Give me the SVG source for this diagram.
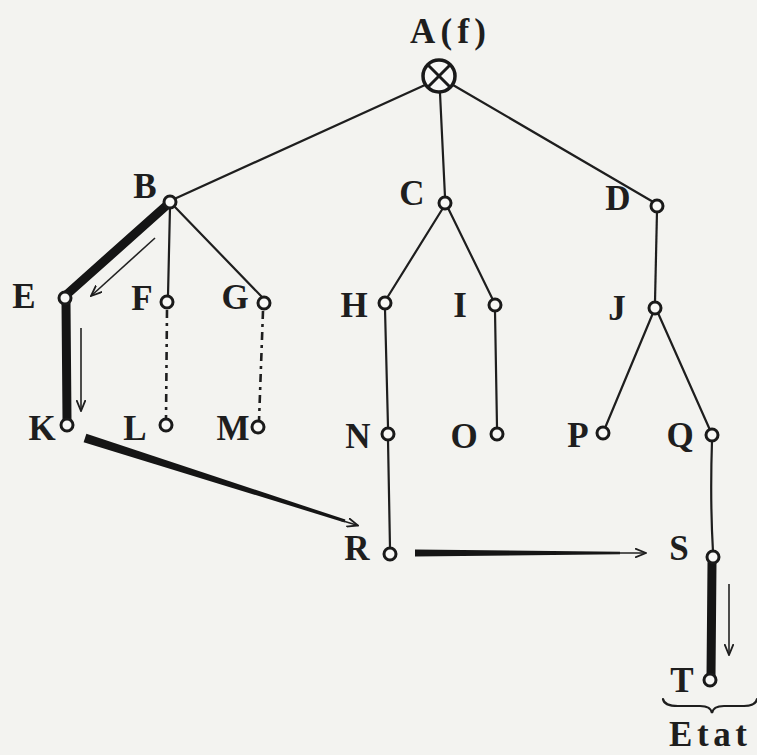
<svg xmlns="http://www.w3.org/2000/svg" width="757" height="755" viewBox="0 0 757 755">
<style>
.bg{fill:#f3f3f0}
.lbl{font-family:"Liberation Serif","DejaVu Serif",serif;font-weight:bold;font-size:35px;fill:#1e1e1e;text-anchor:middle}
.edge{stroke:#1e1e1e;stroke-width:2.2;fill:none;stroke-linecap:round}
.dd{stroke:#1e1e1e;stroke-width:2.6;fill:none;stroke-dasharray:8 5 3 5}
.thick{stroke:#151515;stroke-width:9;fill:none;stroke-linecap:round}
.thin{stroke:#222;stroke-width:1.6;fill:none}
.taper{fill:#151515}
.node{fill:#f8f8f6;stroke:#1a1a1a;stroke-width:3}
</style>
<defs>
<marker id="ah" viewBox="0 0 12 10" refX="11" refY="5" markerWidth="12" markerHeight="10" markerUnits="userSpaceOnUse" orient="auto">
<path d="M0,0.5 L11,5 L0,9.5" fill="none" stroke="#1e1e1e" stroke-width="1.8"/>
</marker>
</defs>
<rect class="bg" x="0" y="0" width="757" height="755"/>
<g id="connectors">
<line class="edge" x1="425" y1="85" x2="172" y2="200"/>
<line class="edge" x1="440" y1="93" x2="445" y2="197"/>
<line class="edge" x1="453" y1="85" x2="655" y2="203"/>
<line class="edge" x1="170" y1="207" x2="168" y2="296"/>
<line class="edge" x1="174" y1="206" x2="262" y2="297"/>
<line class="edge" x1="443" y1="208" x2="387" y2="298"/>
<line class="edge" x1="448" y1="208" x2="493" y2="300"/>
<line class="edge" x1="385" y1="309" x2="388" y2="427"/>
<line class="edge" x1="388" y1="440" x2="390" y2="548"/>
<line class="edge" x1="495" y1="311" x2="497" y2="427"/>
<line class="edge" x1="657" y1="211" x2="655" y2="302"/>
<line class="edge" x1="653" y1="313" x2="605" y2="428"/>
<line class="edge" x1="658" y1="313" x2="710" y2="430"/>
<path class="edge" d="M712,441 Q710,500 713,552"/>
<line class="dd" x1="167" y1="310" x2="166" y2="419"/>
<line class="dd" x1="263" y1="311" x2="259" y2="421"/>
<line class="thick" x1="167" y1="205" x2="65" y2="296"/>
<line class="thick" x1="66" y1="302" x2="67" y2="420"/>
<line class="thick" x1="712" y1="563" x2="711" y2="676"/>
<line class="thin" x1="155" y1="238" x2="91" y2="296" marker-end="url(#ah)"/>
<line class="thin" x1="81" y1="328" x2="81" y2="411" marker-end="url(#ah)"/>
<line class="thin" x1="729" y1="584" x2="729" y2="655" marker-end="url(#ah)"/>
<polygon class="taper" points="86.4,433.7 83.6,442.3 344.6,522.4 345.4,519.6"/>
<line class="thin" x1="340" y1="520" x2="358" y2="525.5" marker-end="url(#ah)"/>
<polygon class="taper" points="415,549.5 415,556.5 620,554.2 620,551.8"/>
<line class="thin" x1="610" y1="553" x2="646" y2="553" marker-end="url(#ah)"/>
<path class="edge" stroke-width="2.5" d="M663,699 Q664,706 678,706 L700,706 Q711,706 712,713 Q713,706 724,706 L744,706 Q756,706 757,699"/>
</g>
<g id="A"><circle cx="439" cy="76" r="16" fill="#f8f8f6" stroke="#1a1a1a" stroke-width="3.5"/><line x1="428" y1="65" x2="450" y2="87" stroke="#1a1a1a" stroke-width="3"/><line x1="450" y1="65" x2="428" y2="87" stroke="#1a1a1a" stroke-width="3"/><text class="lbl" x="448" y="43" textLength="76" lengthAdjust="spacing">A(f)</text></g>
<g id="B"><circle class="node" cx="170" cy="202" r="6"/><text class="lbl" x="145" y="198">B</text></g>
<g id="C"><circle class="node" cx="445" cy="203" r="6"/><text class="lbl" x="412" y="205">C</text></g>
<g id="D"><circle class="node" cx="657" cy="206" r="6"/><text class="lbl" x="618" y="210">D</text></g>
<g id="E"><circle class="node" cx="65" cy="298" r="6"/><text class="lbl" x="24" y="308">E</text></g>
<g id="F"><circle class="node" cx="167" cy="302" r="6"/><text class="lbl" x="142" y="310">F</text></g>
<g id="G"><circle class="node" cx="264" cy="303" r="6"/><text class="lbl" x="235" y="309">G</text></g>
<g id="H"><circle class="node" cx="385" cy="303" r="6"/><text class="lbl" x="354" y="317">H</text></g>
<g id="I"><circle class="node" cx="495" cy="305" r="6"/><text class="lbl" x="460" y="317">I</text></g>
<g id="J"><circle class="node" cx="655" cy="308" r="6"/><text class="lbl" x="617" y="320">J</text></g>
<g id="K"><circle class="node" cx="67" cy="425" r="6"/><text class="lbl" x="42" y="440">K</text></g>
<g id="L"><circle class="node" cx="166" cy="425" r="6"/><text class="lbl" x="135" y="440">L</text></g>
<g id="M"><circle class="node" cx="258" cy="427" r="6"/><text class="lbl" x="233" y="440">M</text></g>
<g id="N"><circle class="node" cx="388" cy="434" r="6"/><text class="lbl" x="358" y="448">N</text></g>
<g id="O"><circle class="node" cx="497" cy="434" r="6"/><text class="lbl" x="464" y="448">O</text></g>
<g id="P"><circle class="node" cx="603" cy="433" r="6"/><text class="lbl" x="578" y="447">P</text></g>
<g id="Q"><circle class="node" cx="712" cy="435" r="6"/><text class="lbl" x="680" y="447">Q</text></g>
<g id="R"><circle class="node" cx="390" cy="554" r="6"/><text class="lbl" x="357" y="560">R</text></g>
<g id="S"><circle class="node" cx="713" cy="557" r="6"/><text class="lbl" x="679" y="560">S</text></g>
<g id="T"><circle class="node" cx="710" cy="680" r="6"/><text class="lbl" x="682" y="692">T</text></g>
<g id="Etat"><text class="lbl" x="708" y="746" font-size="33" textLength="78" lengthAdjust="spacing">Etat</text></g>
</svg>
